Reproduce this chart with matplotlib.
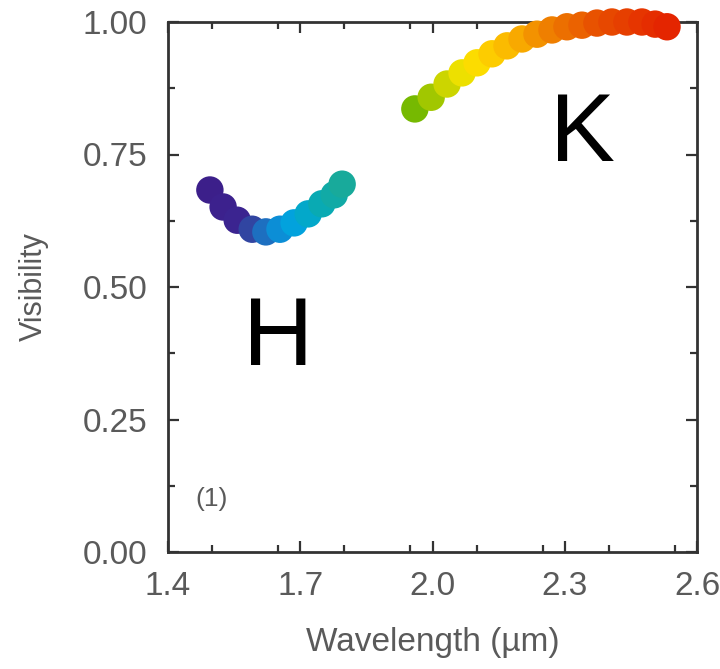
import numpy as np
import matplotlib
matplotlib.use('Agg')
import matplotlib.pyplot as plt
from matplotlib.colors import LinearSegmentedColormap, Normalize
from matplotlib.ticker import MultipleLocator

# H band visibilities
h_wave = [1.495, 1.525, 1.557, 1.591, 1.622, 1.654, 1.686, 1.718, 1.749, 1.777, 1.795]
h_vis = [0.683, 0.651, 0.626, 0.609, 0.604, 0.609, 0.621, 0.638, 0.657, 0.674, 0.694]

# K band visibilities
k_wave = [1.960, 1.997, 2.033, 2.067, 2.101, 2.135, 2.169, 2.203, 2.237,
          2.271, 2.305, 2.339, 2.373, 2.407, 2.441, 2.475, 2.505, 2.532]
k_vis = [0.836, 0.858, 0.883, 0.904, 0.923, 0.940, 0.955, 0.968, 0.977,
         0.985, 0.991, 0.994, 0.998, 1.000, 1.000, 1.000, 0.996, 0.991]

x_ticks = [1.4, 1.7, 2.0, 2.3, 2.6]
y_ticks = [0.0, 0.25, 0.5, 0.75, 1.0]

# wavelength colour scale, violet through red
WMIN, WMAX = 1.49, 2.54
anchors = [
    (1.49, '#3c1f8a'), (1.56, '#3b2490'), (1.60, '#2d52a8'), (1.64, '#0f88d4'),
    (1.69, '#00a6de'), (1.74, '#06aab8'), (1.80, '#1aaa98'), (1.90, '#4bb040'),
    (1.96, '#76b900'), (2.03, '#c8d400'), (2.08, '#fbe400'), (2.13, '#fed000'),
    (2.20, '#f8aa00'), (2.28, '#ee7a00'), (2.38, '#e85000'), (2.54, '#e42400'),
]
cmap = LinearSegmentedColormap.from_list(
    'spec', [((w - WMIN) / (WMAX - WMIN), c) for w, c in anchors])
norm = Normalize(WMIN, WMAX)

plt.rcParams['font.family'] = ['Liberation Sans', 'DejaVu Sans']
grey = '#5a5a5a'

fig = plt.figure(figsize=(7.2, 6.69), dpi=100)
ax = fig.add_axes([168 / 720, 1 - 552 / 669, (697 - 168) / 720, (552 - 22) / 669])

for w, v in [(h_wave, h_vis), (k_wave, k_vis)]:
    ax.scatter(w, v, c=w, cmap=cmap, norm=norm, s=390, linewidths=0,
               zorder=3, clip_on=False)

ax.set_xlim(1.4, 2.6)
ax.set_ylim(0, 1)
ax.set_xticks(x_ticks)
ax.set_yticks(y_ticks)
ax.set_xticklabels(['%.1f' % t for t in x_ticks])
ax.set_yticklabels(['%.2f' % t for t in y_ticks])
ax.xaxis.set_minor_locator(MultipleLocator(0.15))
ax.yaxis.set_minor_locator(MultipleLocator(0.125))
ax.tick_params(which='both', direction='in', top=True, right=True,
               color='#333333', width=1.6, labelsize=24, labelcolor=grey)
ax.tick_params(which='major', length=8)
ax.tick_params(which='minor', length=5)
ax.tick_params(axis='x', pad=14)
ax.tick_params(axis='y', pad=15)
for sp in ax.spines.values():
    sp.set_linewidth(2.0)
    sp.set_color('#333333')

ax.set_xlabel('Wavelength (\u00b5m)', fontsize=24, color=grey, labelpad=18)
ax.set_ylabel('Visibility', fontsize=22, color=grey, labelpad=24)

ax.text(1.65, 0.40, 'H', fontsize=70, ha='center', va='center', color='black')
ax.text(2.34, 0.785, 'K', fontsize=70, ha='center', va='center', color='black')
ax.text(1.461, 0.10, '(1)', fontsize=19, ha='left', va='center', color=grey)

fig.savefig('out.png', dpi=100)
